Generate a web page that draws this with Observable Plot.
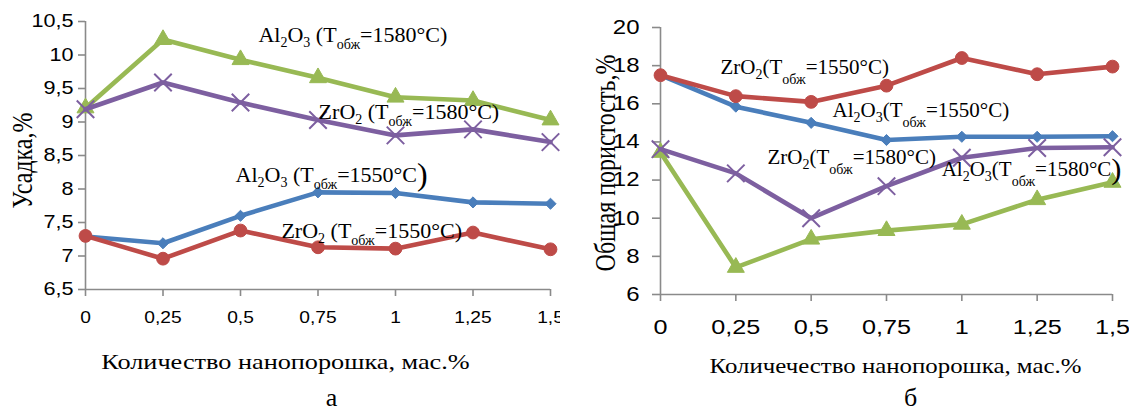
<!DOCTYPE html>
<html><head><meta charset="utf-8">
<script src="https://cdn.jsdelivr.net/npm/d3@7"></script>
<script src="https://cdn.jsdelivr.net/npm/@observablehq/plot@0.6"></script>
<style>
html,body{margin:0;padding:0;background:#fff;}
#wrap{display:flex;width:1129px;height:412px;overflow:hidden;}
#wrap svg{flex:none;overflow:visible;}
</style></head><body><div id="wrap"></div>
<script>
// ---- data ----
const amounts = [0, 0.25, 0.5, 0.75, 1, 1.25, 1.5];
const xTicks = [0, 0.25, 0.5, 0.75, 1, 1.25, 1.5];

// Chart а: shrinkage, %
const shrinkAl1550 = [7.29, 7.19, 7.60, 7.95, 7.94, 7.80, 7.78];
const shrinkZr1550 = [7.30, 6.96, 7.38, 7.13, 7.11, 7.35, 7.10];
const shrinkAl1580 = [9.21, 10.23, 9.93, 9.66, 9.37, 9.32, 9.03];
const shrinkZr1580 = [9.19, 9.59, 9.29, 9.03, 8.80, 8.89, 8.70];
const shrinkTicks = [6.5, 7, 7.5, 8, 8.5, 9, 9.5, 10, 10.5];

// Chart б: total porosity, %
const porAl1550 = [17.5, 15.85, 15.0, 14.1, 14.27, 14.27, 14.3];
const porZr1550 = [17.5, 16.4, 16.1, 16.95, 18.4, 17.55, 17.95];
const porAl1580 = [13.45, 7.42, 8.9, 9.35, 9.68, 10.97, 11.88];
const porZr1580 = [13.62, 12.35, 10.0, 11.68, 13.17, 13.68, 13.72];
const porTicks = [6, 8, 10, 12, 14, 16, 18, 20];

// annotation labels (markup: _{..} subscript, !{..} enlarged)
const shrinkLabelText = ["Al_{2}O_{3} (T_{обж}=1580°C)", "ZrO_{2} (T_{обж}=1580°C)", "Al_{2}O_{3} (T_{обж}=1550°C!{)}", "ZrO_{2} (T_{обж}=1550°C)"];
const shrinkLabelX = [0.558, 0.752, 0.484, 0.632];
const shrinkLabelY = [10.30, 9.15, 8.21, 7.38];
const porLabelText = ["ZrO_{2}(T_{обж}=1550°C)", "Al_{2}O_{3}(T_{обж}=1550°C)", "ZrO_{2}(T_{обж}=1580°C)", "Al_{2}O_{3}(T_{обж}=1580°C!{)}"];
const porLabelX = [0.199, 0.571, 0.355, 0.933];
const porLabelY = [17.9, 15.65, 13.18, 12.55];

const xTitleA = "Количество нанопорошка, мас.%";
const xTitleB = "Количечество нанопорошка, мас.%";
const yTitleA = "Усадка,%";
const yTitleB = "Общая пористость,%";

const colors = ["#4A7EBB", "#BE4B48", "#98B954", "#7D5FA0"];
const symbols = ["diamond2", "circle", "triangle", "times"];
const radii = [5.0, 6.4, 6.3, 8.0];
const axisGray = "#8A8A8A";
const fmt = d => String(d).replace(".", ",");
const ns = "http://www.w3.org/2000/svg";

function makeChart(cfg) {
  const marks = [
    Plot.ruleY([cfg.yDomain[0]], {stroke: axisGray, strokeWidth: 1.6}),
    Plot.ruleX([0], {stroke: axisGray, strokeWidth: 1.6}),
    Plot.axisX({ticks: xTicks, tickFormat: fmt, tickSize: 7, tickPadding: cfg.xPad, stroke: axisGray, strokeWidth: 1.6, fill: "#000", fontSize: cfg.xFont, fontFamily: "Liberation Sans", label: null}),
    Plot.axisY({ticks: cfg.yTicks, tickFormat: fmt, tickSize: cfg.yTickSize, tickPadding: cfg.yPad, stroke: axisGray, strokeWidth: 1.6, fill: "#000", fontSize: cfg.yFont, fontFamily: "Liberation Sans", label: null})
  ];
  cfg.series.forEach((vals, i) => {
    const data = amounts.map((x, j) => ({x, y: vals[j]}));
    marks.push(Plot.line(data, {x: "x", y: "y", stroke: colors[i], strokeWidth: 4.6}));
    marks.push(Plot.dot(data, {x: "x", y: "y", symbol: symbols[i], r: radii[i],
      fill: i === 3 ? "none" : colors[i], stroke: colors[i], strokeWidth: i === 3 ? 2 : 1}));
  });
  const labels = cfg.labelText.map((t, i) => ({t, x: cfg.labelX[i], y: cfg.labelY[i]}));
  marks.push(Plot.text(labels, {x: "x", y: "y", text: "t", textAnchor: "start", lineAnchor: "middle", fontSize: cfg.annFont, fontFamily: "Liberation Serif", fill: "#000"}));
  marks.push(Plot.text([cfg.yTitle], {text: d => d, frameAnchor: "left", textAnchor: "middle", lineAnchor: "middle", rotate: -90, dx: cfg.yTitleDx, dy: cfg.yTitleDy, fontSize: 24, fontFamily: "Liberation Serif", fill: "#000"}));
  marks.push(Plot.text([cfg.xTitle], {text: d => d, frameAnchor: "bottom", textAnchor: "middle", lineAnchor: "middle", dx: cfg.xTitleDx, dy: cfg.xTitleDy, fontSize: cfg.xTitleFont, fontFamily: "Liberation Serif", fill: "#000"}));
  marks.push(Plot.text([cfg.letter], {text: d => d, frameAnchor: "bottom", textAnchor: "middle", lineAnchor: "middle", dx: cfg.letterDx, dy: cfg.letterDy, fontSize: 26, fontFamily: "Liberation Serif", fill: "#000"}));

  const svg = Plot.plot({
    width: cfg.width, height: 412,
    marginLeft: cfg.ml, marginRight: cfg.mr, marginTop: cfg.mt, marginBottom: cfg.mb,
    x: {domain: [0, 1.5]},
    y: {domain: cfg.yDomain},
    style: {fontFamily: "Liberation Sans", background: "#fff", overflow: "visible"},
    marks
  });

  const tickStrings = new Set([...xTicks, ...cfg.yTicks].map(fmt));
  svg.querySelectorAll("text").forEach(t => {
    const s = t.textContent;
    const li = cfg.labelText.indexOf(s);
    if (li >= 0) richify(t, s, cfg);
    else if (tickStrings.has(s)) stretch(t, cfg.tickStretch, 1);
    else if (s === cfg.xTitle) stretch(t, cfg.xTitleStretch, 1);
    else if (s === cfg.yTitle) stretch(t, 1, 1.25);
  });
  return svg;
}

function stretch(t, sx, sy) {
  let tr = t.getAttribute("transform") || "";
  const x = t.getAttribute("x");
  if (!/translate/.test(tr) && x != null && !isNaN(+x)) {
    tr = `translate(${x},0) ` + tr; t.removeAttribute("x");
  }
  t.setAttribute("transform", tr + ` scale(${sx},${sy})`);
}

function richify(textEl, markup, cfg) {
  textEl.textContent = "";
  const re = /_\{([^}]*)\}|!\{([^}]*)\}|([^_!]+)/g;
  let m, cur = 0;
  while ((m = re.exec(markup))) {
    const ts = document.createElementNS(ns, "tspan");
    let shift = 0;
    if (m[1] !== undefined) {
      ts.textContent = m[1];
      ts.setAttribute("font-size", cfg.subFont);
      shift = /\d/.test(m[1]) ? cfg.digitShift : cfg.wordShift;
    } else if (m[2] !== undefined) {
      ts.textContent = m[2];
      ts.setAttribute("font-size", cfg.annFont * 1.45);
      shift = 3;
    } else {
      ts.textContent = m[3];
    }
    ts.setAttribute("dy", shift - cur);
    cur = shift;
    textEl.appendChild(ts);
  }
}

const wrap = document.getElementById("wrap");
wrap.appendChild(makeChart({
  width: 560, ml: 85, mr: 10, mt: 21, mb: 123,
  yDomain: [6.5, 10.5], yTicks: shrinkTicks,
  series: [shrinkAl1550, shrinkZr1550, shrinkAl1580, shrinkZr1580],
  xPad: 15, xFont: 16, yFont: 18, yTickSize: 7, yPad: 5, tickStretch: 1.2,
  labelText: shrinkLabelText, labelX: shrinkLabelX, labelY: shrinkLabelY,
  annFont: 22, subFont: 14, digitShift: 5, wordShift: 7,
  yTitle: yTitleA, yTitleDx: -63, yTitleDy: 5,
  xTitle: xTitleA, xTitleDx: -32.5, xTitleDy: 73, xTitleFont: 21, xTitleStretch: 1.25,
  letter: "а", letterDx: 13.5, letterDy: 108.5
}));
wrap.appendChild(makeChart({
  width: 569, ml: 100, mr: 17, mt: 27, mb: 118,
  yDomain: [6, 20], yTicks: porTicks,
  series: [porAl1550, porZr1550, porAl1580, porZr1580],
  xPad: 18, xFont: 21, yFont: 20, yTickSize: 8, yPad: 13, tickStretch: 1.2,
  labelText: porLabelText, labelX: porLabelX, labelY: porLabelY,
  annFont: 21, subFont: 14, digitShift: 5, wordShift: 10,
  yTitle: yTitleB, yTitleDx: -55, yTitleDy: 2,
  xTitle: xTitleB, xTitleDx: 9, xTitleDy: 71, xTitleFont: 22, xTitleStretch: 1.13,
  letter: "б", letterDx: 24, letterDy: 103.5
}));
</script></body></html>
